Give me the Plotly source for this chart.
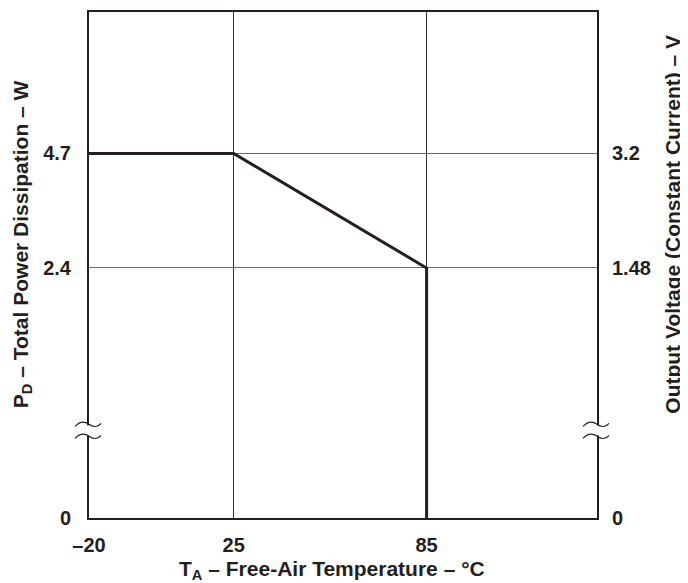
import plotly.graph_objects as go

# ---- data ----
temp_c = [-20, 25, 85, 85]          # T_A (°C)
power_w = [4.7, 4.7, 2.4, 0]        # P_D (W)
x_ticks = [-20, 25, 85]
x_ticklabels = ["\u201320", "25", "85"]
y_ticks_w = [0, 2.4, 4.7]
y_ticklabels_left = ["0", "2.4", "4.7"]
y_ticklabels_right = ["0", "1.48", "3.2"]

# ---- broken y scale: linear above the knee, compressed below (axis break) ----
Y_KNEE = 2.4
Y_ZERO_POS = -2.62   # axis position that 0 W is drawn at, below the break
Y_TOP = 7.54
Y_BREAK = -0.86      # axis position of the break marks


def to_axis(v):
    if v >= Y_KNEE:
        return v
    return Y_ZERO_POS + v * (Y_KNEE - Y_ZERO_POS) / Y_KNEE


y_axis_vals = [to_axis(v) for v in power_w]
y_tick_pos = [to_axis(v) for v in y_ticks_w]

INK = "#231f20"
FONT = "Liberation Sans, Arial, Helvetica, sans-serif"

fig = go.Figure()
fig.add_trace(go.Scatter(x=temp_c, y=y_axis_vals, mode="lines",
                         line=dict(color=INK, width=3),
                         hoverinfo="skip", showlegend=False))
fig.add_trace(go.Scatter(x=temp_c, y=y_axis_vals, mode="lines", yaxis="y2",
                         line=dict(color="rgba(0,0,0,0)", width=0),
                         hoverinfo="skip", showlegend=False))

tickfont = dict(family=FONT, size=20, color=INK, weight="bold")

# the page body has an 8px default margin, so the figure is 16px smaller
fig.update_layout(
    width=680, height=575,
    margin=dict(l=81, r=91, t=2, b=65),
    paper_bgcolor="white", plot_bgcolor="white",
    xaxis=dict(range=[-20, 138], tickvals=x_ticks,
               ticktext=x_ticklabels,
               showgrid=True, gridcolor="#333", gridwidth=1,
               zeroline=False, showline=True, mirror=True,
               linecolor=INK, linewidth=2, ticks="",
               ticklabelstandoff=8, tickfont=tickfont),
    yaxis=dict(range=[Y_ZERO_POS, Y_TOP], tickvals=y_tick_pos,
               ticktext=y_ticklabels_left,
               showgrid=True, gridcolor="#6a6a6a", gridwidth=1,
               zeroline=False, showline=True, mirror=True,
               linecolor=INK, linewidth=2, ticks="",
               ticklabelstandoff=12, tickfont=tickfont),
    yaxis2=dict(range=[Y_ZERO_POS, Y_TOP], tickvals=y_tick_pos,
                ticktext=y_ticklabels_right, overlaying="y", side="right",
                showgrid=False, zeroline=False, showline=False, ticks="",
                ticklabelstandoff=14, tickfont=tickfont),
)

titlefont = dict(family=FONT, size=21, color=INK, weight="bold")
fig.add_annotation(text="P<sub>D</sub> \u2013 Total Power Dissipation \u2013 W",
                   xref="paper", yref="paper", x=-0.132, y=0.541,
                   textangle=-90, showarrow=False, font=titlefont,
                   xanchor="center", yanchor="middle")
fig.add_annotation(text="Output Voltage (Constant Current) \u2013 V",
                   xref="paper", yref="paper", x=1.148, y=0.58,
                   textangle=-90, showarrow=False, font=titlefont,
                   xanchor="center", yanchor="middle")
fig.add_annotation(text="T<sub>A</sub> \u2013 Free-Air Temperature \u2013 \u00b0C",
                   xref="paper", yref="paper", x=0.478, y=-0.102,
                   showarrow=False, font=titlefont,
                   xanchor="center", yanchor="middle")

# axis-break marks on both vertical frame lines
for xa in (0, 1):
    fig.add_shape(type="rect", xref="paper", yref="y", xsizemode="pixel",
                  ysizemode="pixel", xanchor=xa, yanchor=Y_BREAK,
                  x0=-3, x1=3, y0=-5, y1=5,
                  fillcolor="white", line=dict(width=0), layer="above")
    for dy in (6, -6):
        fig.add_shape(type="path", xref="paper", yref="y",
                      xsizemode="pixel", ysizemode="pixel",
                      xanchor=xa, yanchor=Y_BREAK,
                      path=f"M-14,{dy-2} C-9,{dy+3} -4,{dy+3} 0,{dy} "
                           f"C4,{dy-3} 9,{dy-3} 12,{dy+1}",
                      line=dict(color=INK, width=1.2), layer="above")

fig.write_html("out.html")
